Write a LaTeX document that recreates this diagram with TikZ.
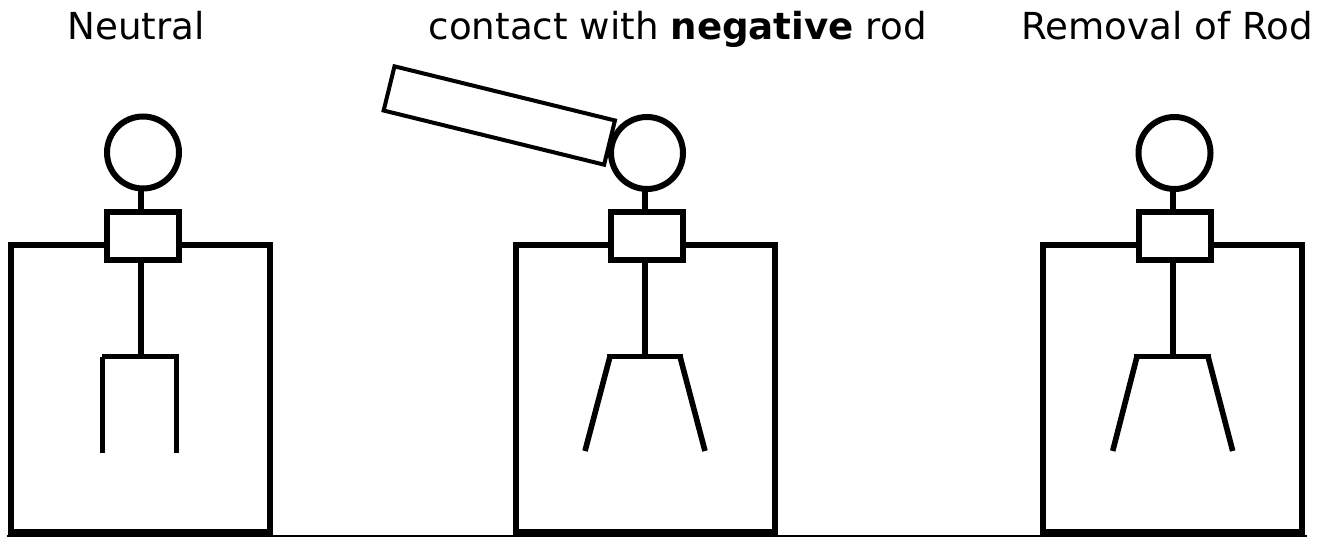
\documentclass[tikz,border=0pt]{standalone}
\usepackage{fontspec}
\setmainfont{DejaVu Sans}
\tikzset{
  thick line/.style={line width=5.6pt, line cap=butt},
  outerbox/.style={draw, rectangle, line width=6pt, minimum width=259pt, minimum height=287.5pt, inner sep=0pt, outer sep=0pt},
  neckbox/.style={draw, fill=white, rectangle, line width=6pt, minimum width=72pt, minimum height=48pt, inner sep=0pt, outer sep=0pt},
  headball/.style={draw, fill=white, circle, line width=6pt, minimum size=72pt, inner sep=0pt, outer sep=0pt},
  rodbox/.style={draw, fill=white, rectangle, line width=4pt, minimum width=227pt, minimum height=45.5pt, inner sep=0pt, outer sep=0pt, rotate=-13.8},
  caption/.style={anchor=base, inner sep=0pt, font=\fontsize{37.2}{42}\selectfont},
}
\begin{document}
\begin{tikzpicture}[x=1pt,y=-1pt]
\useasboundingbox (0,0) rectangle (1330,537);
% Panel 1
\node[outerbox] (box1) at (140,388.3) {};
\node[neckbox] (neck1) at (143,236) {};
\node[headball] (head1) at (143,152.5) {};
\coordinate (stem1) at (141,0);
\coordinate (hip1) at (141,356.5);
\coordinate (forkL1) at (102,356.5);
\coordinate (forkR1) at (179,356.5);
\coordinate (legL1) at (102.5,452.5);
\coordinate (legR1) at (176.5,452.5);
\draw[thick line] (neck1.north -| stem1) -- (head1.south -| stem1);
\draw[thick line] (neck1.south -| stem1) -- (hip1);
\draw[thick line] (forkL1) -- (forkR1);
\draw[thick line] (legL1 |- forkL1) -- (legL1);
\draw[thick line] (legR1 |- forkR1) -- (legR1);
% Panel 2
\node[outerbox] (box2) at (645,388.3) {};
\node[neckbox] (neck2) at (647,236.5) {};
\node[headball] (head2) at (647,153) {};
\node[rodbox] (rod) at (499.3,115.5) {};
\coordinate (stem2) at (645,0);
\coordinate (hip2) at (645,356.5);
\coordinate (forkL2) at (607,356.5);
\coordinate (forkR2) at (683,356.5);
\coordinate (topL2) at (610,356.5);
\coordinate (topR2) at (680,356.5);
\coordinate (legL2) at (585,451);
\coordinate (legR2) at (705,451);
\draw[thick line] (neck2.north -| stem2) -- (head2.south -| stem2);
\draw[thick line] (neck2.south -| stem2) -- (hip2);
\draw[thick line] (forkL2) -- (forkR2);
\draw[thick line] (topL2) -- (legL2);
\draw[thick line] (topR2) -- (legR2);
% Panel 3
\node[outerbox] (box3) at (1172.5,388.3) {};
\node[neckbox] (neck3) at (1174.5,236.5) {};
\node[headball] (head3) at (1174.5,153) {};
\coordinate (stem3) at (1172.7,0);
\coordinate (hip3) at (1172.7,356.5);
\coordinate (forkL3) at (1134,356.5);
\coordinate (forkR3) at (1211,356.5);
\coordinate (topL3) at (1137,356.5);
\coordinate (topR3) at (1208,356.5);
\coordinate (legL3) at (1112.7,451);
\coordinate (legR3) at (1232.7,451);
\draw[thick line] (neck3.north -| stem3) -- (head3.south -| stem3);
\draw[thick line] (neck3.south -| stem3) -- (hip3);
\draw[thick line] (forkL3) -- (forkR3);
\draw[thick line] (topL3) -- (legL3);
\draw[thick line] (topR3) -- (legR3);
% Base line
\coordinate (baseL) at (7,536);
\coordinate (baseR) at (1307,536);
\draw[line width=1.6pt] (baseL) -- (baseR);
% Captions
\node[caption] (cap1) at (136,39.5) {Neutral};
\node[caption] (cap2) at (677.7,39.5) {contact with \textbf{negative} rod};
\node[caption] (cap3) at (1167,39.5) {Removal of Rod};
\end{tikzpicture}
\end{document}
